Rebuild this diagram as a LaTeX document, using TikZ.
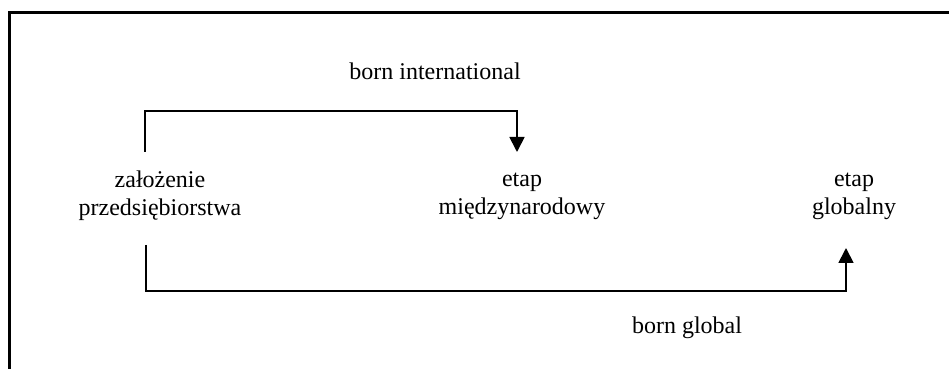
\documentclass[tikz,border=0pt]{standalone}
\usepackage{fontspec}
\setmainfont{Liberation Serif}
\usetikzlibrary{arrows.meta}

\tikzset{
  stage/.style={align=center, inner sep=0pt, font=\fontsize{12}{14}\selectfont},
  route/.style={line width=0.9pt, -{Triangle[width=7.5pt,length=7.5pt]}},
}

\begin{document}
\begin{tikzpicture}[x=0.5pt,y=-0.5pt]
\useasboundingbox (0,0) rectangle (949,369);

% frame
\draw[line width=1.5pt] (9,369) -- (9,13) -- (949,13);

% stages
\node[stage] (zal)    at (160,196) {założenie\\przedsiębiorstwa};
\node[stage] (intl)   at (522,196) {etap\\międzynarodowy};
\node[stage] (global) at (854,196) {etap\\globalny};

% labels
\node[stage] (bi) at (435,71)  {born international};
\node[stage] (bg) at (687,328) {born global};

% born international
\coordinate (bi start) at (145,152);
\coordinate (bi end)   at (517,152);
\draw[route] (bi start) -- ++(0,-41) -| (bi end);

% born global
\coordinate (bg start) at (146,245);
\coordinate (bg end)   at (846,248);
\draw[route] (bg start) -- ++(0,46) -| (bg end);

\end{tikzpicture}
\end{document}
